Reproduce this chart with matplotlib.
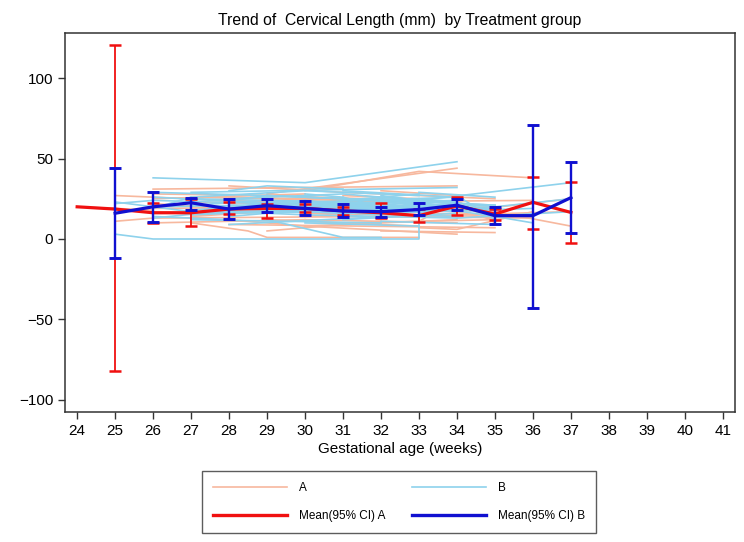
import matplotlib
matplotlib.use("Agg")
import matplotlib.pyplot as plt
from matplotlib.lines import Line2D
import numpy as np

plt.rcParams['font.family'] = ['Liberation Sans', 'DejaVu Sans']

# ---- individual trajectories, group A ----
a_weeks = [
    [24, 26], [25, 27, 29], [25, 26], [26, 29, 33], [26, 30], [26, 28, 32],
    [27, 28.5, 29, 33], [27, 31], [27, 30, 34], [28, 31, 35], [28, 30, 32], [28, 33],
    [29, 34], [29, 31, 33], [29, 32], [30, 33, 36], [30, 34], [30, 32, 35],
    [31, 35], [31, 33], [31, 34, 37], [32, 35], [32, 34], [32, 36],
    [33, 35], [33, 34, 36], [34, 35], [34, 37], [35, 37], [26, 31],
    [27, 32], [28, 34], [29, 33], [30, 35], [33, 35], [26, 28], [31, 36],
    [26, 34], [28, 35], [30, 33], [26, 32], [27, 33], [29, 35], [31, 34],
    [28, 31], [32, 35], [26, 30], [30, 34], [27, 29], [33, 34],
]
a_values = [
    [20, 18], [27, 25, 22], [11, 13], [28, 27, 24], [10, 12], [22, 19, 15],
    [10, 5, 1, 1], [26, 24], [15, 18, 20], [33, 29, 25], [12, 8, 10], [21, 17],
    [28, 44], [17, 21, 14], [5, 11], [30, 42, 38], [8, 3], [24, 20, 18],
    [10, 12], [27, 25], [19, 17, 25], [5, 4], [30, 27], [14, 13],
    [22, 12], [7, 6, 17], [24, 10], [15, 17], [17, 8], [19, 20],
    [20, 16], [26, 23], [12, 8], [16, 14], [16, 15], [17, 16], [23, 24],
    [31, 33], [9, 7], [14, 19], [13, 14], [23, 20], [22, 17], [9, 12],
    [24, 21], [18, 20], [25, 28], [12, 10], [14, 17], [11, 24],
]

# ---- individual trajectories, group B ----
b_weeks = [
    [25, 26, 33, 33, 34], [25, 26], [25, 27], [26, 30, 34], [26, 29, 32], [26, 28],
    [26, 31], [27, 30, 33], [27, 29], [27, 28, 30], [27, 32], [28, 31, 34],
    [28, 30], [28, 33], [28, 29, 31], [29, 31, 32], [29, 33], [29, 30, 32],
    [29, 35], [30, 33], [30, 32, 34], [30, 31], [30, 34], [31, 33, 35],
    [31, 34], [31, 32], [31, 33], [32, 34], [32, 35], [32, 33, 37],
    [33, 34], [33, 35, 36], [34, 35], [34, 37], [35, 37], [26, 27],
    [27, 31], [28, 32], [29, 34], [30, 35], [31, 35], [32, 36],
    [26, 33], [27, 34], [28, 29], [33, 35], [26, 29], [27, 33],
    [29, 32], [30, 34], [28, 35], [31, 34], [26, 30], [27, 31, 34],
    [28, 34], [29, 31], [30, 33], [31, 33], [32, 34], [33, 34],
    [26, 32], [27, 30], [28, 31], [29, 33], [30, 32], [31, 35],
    [32, 35], [28, 30, 33], [29, 34], [30, 31, 34], [27, 29, 32], [31, 32, 34],
]
b_values = [
    [3, 0, 0, 22, 20], [22, 24], [23, 17], [38, 35, 48], [29, 27, 24], [14, 12],
    [20, 22], [26, 30, 27], [18, 21], [23, 17, 15], [12, 10], [25, 28, 22],
    [20, 24], [9, 15], [30, 33, 31], [12, 1, 1], [24, 20], [16, 19, 22],
    [27, 21], [10, 8], [22, 25, 18], [28, 26], [17, 14], [19, 23, 15],
    [30, 26], [15, 13], [24, 28], [20, 24], [11, 9], [27, 24, 35],
    [16, 19], [21, 14, 10], [27, 12], [13, 17], [20, 25], [19, 26],
    [21, 19], [17, 18], [22, 26], [21, 19], [18, 20], [16, 19],
    [16, 17], [29, 32], [24, 27], [29, 26], [13, 20], [25, 22],
    [21, 23], [15, 13], [18, 21], [12, 16], [26, 21], [17, 22, 24],
    [21, 18], [23, 19], [19, 25], [16, 21], [22, 17], [25, 23],
    [24, 20], [15, 18], [19, 16], [27, 23], [18, 15], [22, 18],
    [25, 21], [14, 18, 20], [20, 17], [24, 21, 19], [21, 24, 19], [26, 20, 22],
]

# ---- mean and 95% CI ----
a_mean_weeks = [24, 25, 26, 27, 28, 29, 30, 31, 32, 33, 34, 35, 36, 37]
a_mean = [20, 18.6, 16.3, 16.3, 18.6, 19, 19, 17.5, 16.3, 14.5, 20.5, 15.5, 22.8, 16.5]
a_ci_weeks = [25, 26, 27, 28, 29, 30, 31, 32, 33, 34, 35, 36, 37]
a_lo = [-82, 10, 8.3, 15.5, 12.8, 16.6, 14.9, 12.8, 10.8, 14.9, 12, 6.2, -2.7]
a_hi = [120.5, 22.3, 24.8, 22.8, 21.7, 22, 20, 22.6, 18.6, 26.3, 18.5, 38.7, 35.2]

b_mean_weeks = [25, 26, 27, 28, 29, 30, 31, 32, 33, 34, 35, 36, 37]
b_mean = [16, 20, 22.5, 18.6, 20.7, 19, 17.4, 17, 18.3, 21, 14.5, 14.5, 25.7]
b_lo = [-12, 10.5, 18, 12.2, 16.5, 14.9, 13.5, 13.5, 14.9, 18, 9.1, -42.6, 3.5]
b_hi = [44, 29, 25.7, 24.8, 24.8, 23.8, 22, 20, 22.6, 24.6, 19.7, 71, 48]

x_ticks = list(range(24, 42))
y_ticks = [-100, -50, 0, 50, 100]

SALMON = '#F7B89E'
SKY = '#8ED2EC'
RED = '#F01010'
BLUE = '#1010D0'

fig = plt.figure(figsize=(7.44, 5.42), dpi=100)
ax = fig.add_axes([65/744, 1-412/542, (735-65)/744, (412-33)/542])

for w, v in zip(a_weeks, a_values):
    ax.plot(w, v, color=SALMON, lw=1.2, zorder=1)
for w, v in zip(b_weeks, b_values):
    ax.plot(w, v, color=SKY, lw=1.2, zorder=2)

# group A mean + CI
ax.plot(a_mean_weeks, a_mean, color=RED, lw=2.3, zorder=4)
a_mid = np.array([a_mean[a_mean_weeks.index(w)] for w in a_ci_weeks])
ax.errorbar(a_ci_weeks, a_mid,
            yerr=[a_mid - np.array(a_lo), np.array(a_hi) - a_mid],
            fmt='none', ecolor=RED, elinewidth=1.3, capsize=4, capthick=1.8, zorder=4)

# group B mean + CI
b_mid = np.array(b_mean)
ax.plot(b_mean_weeks, b_mean, color=BLUE, lw=2.3, zorder=5)
ax.errorbar(b_mean_weeks, b_mid,
            yerr=[b_mid - np.array(b_lo), np.array(b_hi) - b_mid],
            fmt='none', ecolor=BLUE, elinewidth=1.7, capsize=4, capthick=2.1, zorder=5)

ax.set_xlim(23.68, 41.32)
ax.set_ylim(-107.5, 128)
ax.set_xticks(x_ticks)
ax.set_yticks(y_ticks)
ax.tick_params(axis='both', labelsize=11, length=5, width=1.0, color='#333333')
for s in ax.spines.values():
    s.set_color('#333333')
    s.set_linewidth(1.1)

ax.set_xlabel('Gestational age (weeks)', fontsize=11, labelpad=3)
ax.set_title('Trend of  Cervical Length (mm)  by Treatment group', fontsize=11.3, pad=6)

handles = [
    Line2D([], [], color=SALMON, lw=1.2),
    Line2D([], [], color=RED, lw=2.4),
    Line2D([], [], color=SKY, lw=1.2),
    Line2D([], [], color=BLUE, lw=2.4),
]
labels = ['A', 'Mean(95% CI) A', 'B', 'Mean(95% CI) B']
leg = fig.legend(handles, labels, ncol=2, loc='center', bbox_to_anchor=(399/744, 1-502/542),
                 fontsize=8.5, frameon=True, fancybox=False, edgecolor='#333333',
                 handlelength=6.3, handletextpad=1.0, columnspacing=2.2,
                 labelspacing=1.4, borderpad=0.9)
leg.get_frame().set_linewidth(1.0)

fig.savefig('out.png', dpi=100)
